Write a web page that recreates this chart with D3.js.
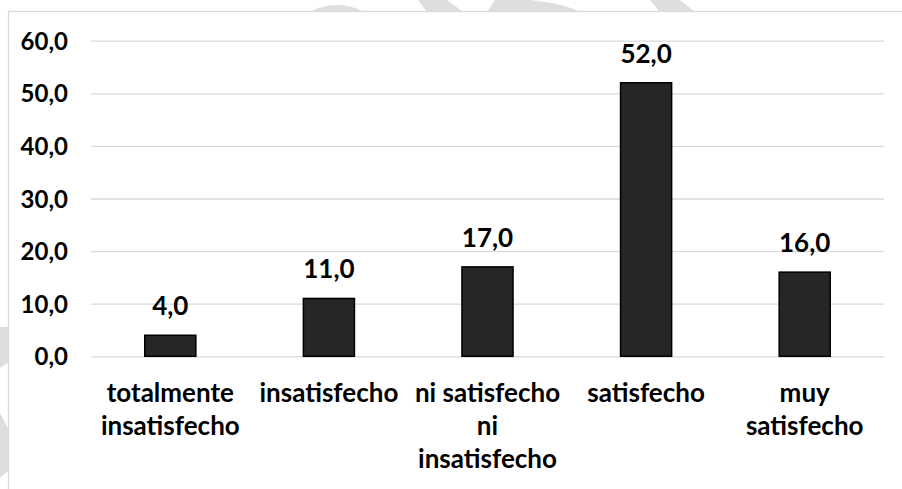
<!DOCTYPE html>
<html>
<head>
<meta charset="utf-8">
<script src="https://cdn.jsdelivr.net/npm/d3@7"></script>
<style>
  html, body { margin: 0; padding: 0; background: #fff; }
  svg { display: block; }
  text { font-family: Lato, "Noto Sans", sans-serif; font-weight: 700; fill: #000; }
</style>
</head>
<body>
<svg id="chart" width="902" height="489"></svg>
<script>
// Survey responses: level of satisfaction (%)
const categories = [
  "totalmente insatisfecho",
  "insatisfecho",
  "ni satisfecho ni insatisfecho",
  "satisfecho",
  "muy satisfecho"
];
const categoryLines = [
  ["totalmente", "insatisfecho"],
  ["insatisfecho"],
  ["ni satisfecho", "ni", "insatisfecho"],
  ["satisfecho"],
  ["muy", "satisfecho"]
];
const values = [4.0, 11.0, 17.0, 52.0, 16.0];
const yTicks = [0, 10, 20, 30, 40, 50, 60];

const plot = { left: 91, right: 884, top: 40.7, bottom: 356.3 };
const FONT_CAT = 26, FONT_VAL = 26, FONT_TICK = 24;

const es = d3.formatLocale({ decimal: ",", thousands: ".", grouping: [3], currency: ["", " €"] });
const fmt = es.format(".1f");

const svg = d3.select("#chart");

// faint background stamp, only its edges show outside the chart frame
const stamp = svg.append("g").attr("fill", "#dedede");
stamp.append("ellipse").attr("cx", 337).attr("cy", 24).attr("rx", 34).attr("ry", 19);
stamp.append("polygon").attr("points", "418,0 447,0 463,12 427,12");
stamp.append("path").attr("d", "M495,0 L530,0 Q565,4 580,12 L487,12 Z");
stamp.append("polygon").attr("points", "650,0 680,0 695,12 660,12");
stamp.append("polygon").attr("points", "0,327 9,327 9,362 0,368");
stamp.append("polygon").attr("points", "0,413 9,430 9,470 0,478");

// chart frame (extends past the visible page on the right and bottom)
svg.append("rect")
  .attr("x", 8.5).attr("y", 11.5)
  .attr("width", 1000).attr("height", 1000)
  .attr("fill", "#fff")
  .attr("stroke", "#d9d9d9").attr("stroke-width", 1.3);

const x = d3.scaleBand()
  .domain(categories)
  .range([plot.left, plot.right])
  .paddingInner(0.678)
  .paddingOuter(0.339);

const y = d3.scaleLinear()
  .domain([0, 60])
  .range([plot.bottom, plot.top]);

// y axis with gridlines
const yAxis = svg.append("g")
  .attr("transform", `translate(${plot.left},0)`)
  .call(d3.axisLeft(y)
    .tickValues(yTicks)
    .tickFormat(fmt)
    .tickSize(-(plot.right - plot.left))
    .tickPadding(23));
yAxis.select(".domain").remove();
yAxis.selectAll(".tick line").attr("stroke", "#d9d9d9").attr("stroke-width", 1.3);
yAxis.selectAll(".tick text")
  .attr("font-size", FONT_TICK)
  .attr("dy", "0.36em")
  .style("font-family", "Lato, 'Noto Sans', sans-serif")
  .style("font-weight", 700)
  .attr("fill", "#000");

// bars
svg.append("g").selectAll("rect")
  .data(values)
  .join("rect")
  .attr("x", (d, i) => x(categories[i]))
  .attr("y", d => y(d))
  .attr("width", x.bandwidth())
  .attr("height", d => y(0) - y(d))
  .attr("fill", "#262626")
  .attr("stroke", "#000")
  .attr("stroke-width", 1.5);

// value labels
svg.append("g").selectAll("text")
  .data(values)
  .join("text")
  .attr("x", (d, i) => x(categories[i]) + x.bandwidth() / 2)
  .attr("y", d => y(d) - 20)
  .attr("text-anchor", "middle")
  .attr("font-size", FONT_VAL)
  .text(d => fmt(d));

// category axis with wrapped labels
const xAxis = svg.append("g")
  .attr("transform", `translate(0,${plot.bottom})`)
  .call(d3.axisBottom(x).tickSize(0).tickFormat(""));
xAxis.select(".domain").remove();
xAxis.selectAll(".tick").each(function (c) {
  const t = d3.select(this).select("text")
    .attr("y", 0).attr("dy", null)
    .attr("text-anchor", "middle")
    .attr("font-size", FONT_CAT)
    .style("font-family", "Lato, 'Noto Sans', sans-serif")
    .style("font-weight", 700)
    .attr("fill", "#000");
  t.selectAll("tspan")
    .data(categoryLines[categories.indexOf(c)])
    .join("tspan")
    .attr("x", 0)
    .attr("y", (d, j) => 46 + j * 33)
    .text(d => d);
});
</script>
</body>
</html>
